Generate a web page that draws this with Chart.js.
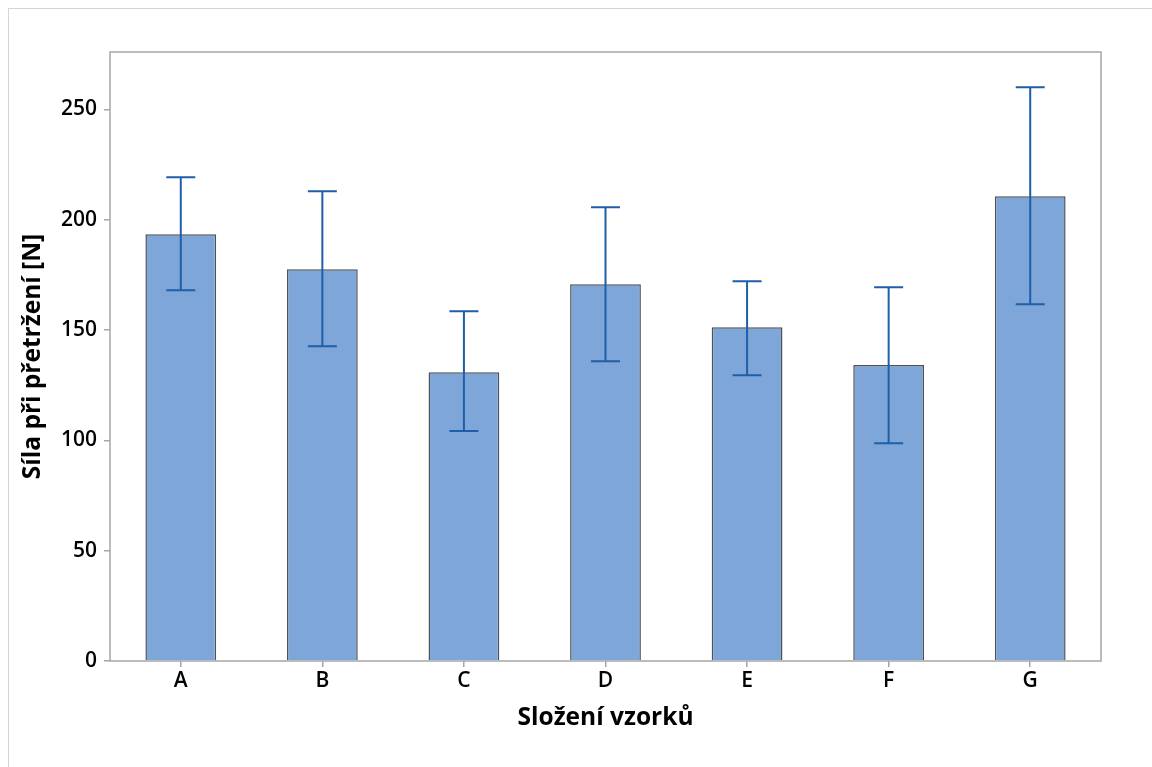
<!DOCTYPE html>
<html>
<head>
<meta charset="utf-8">
<script src="https://cdn.jsdelivr.net/npm/chart.js@4.4.1/dist/chart.umd.min.js"></script>
<style>
  html, body { margin: 0; padding: 0; background: #fff; overflow: hidden; }
  #wrap { position: relative; width: 1152px; height: 767px; }
  #frame { position: absolute; left: 8px; top: 8px; width: 1200px; height: 800px; border: 1px solid #d4d4d4; }
  canvas { position: absolute; left: 0; top: 0; }
</style>
</head>
<body>
<div id="wrap">
  <div id="frame"></div>
  <canvas id="chart" width="1152" height="767"></canvas>
</div>
<script>
// Data
const categories = ['A', 'B', 'C', 'D', 'E', 'F', 'G'];
const means = [193.4, 177.5, 130.9, 170.7, 151.3, 134.1, 210.6];
const errLow = [168.0, 142.7, 104.2, 135.9, 129.5, 98.7, 161.7];
const errHigh = [219.2, 212.9, 158.5, 205.6, 172.1, 169.4, 260.0];
const yTicks = [0, 50, 100, 150, 200, 250];

const FONT = "'Open Sans', 'Noto Sans', sans-serif";
const AXIS_GREY = '#a6a6a6';

// Error bars + plot frame
const errorBarPlugin = {
  id: 'errorBars',
  beforeDatasetsDraw(chart) {
    const { ctx, chartArea: a } = chart;
    ctx.save();
    ctx.strokeStyle = AXIS_GREY;
    ctx.lineWidth = 1.5;
    ctx.strokeRect(a.left, a.top, a.right - a.left, a.bottom - a.top);
    ctx.restore();
  },
  afterDatasetsDraw(chart) {
    const { ctx } = chart;
    const x = chart.scales.x;
    const y = chart.scales.y;
    const cap = 14.5;
    ctx.save();
    ctx.strokeStyle = '#1f5fa8';
    ctx.lineWidth = 2;
    categories.forEach((c, i) => {
      const px = x.getPixelForValue(i);
      const yl = y.getPixelForValue(errLow[i]);
      const yh = y.getPixelForValue(errHigh[i]);
      ctx.beginPath();
      ctx.moveTo(px, yl);
      ctx.lineTo(px, yh);
      ctx.moveTo(px - cap, yh);
      ctx.lineTo(px + cap, yh);
      ctx.moveTo(px - cap, yl);
      ctx.lineTo(px + cap, yl);
      ctx.stroke();
    });
    ctx.restore();
  }
};

new Chart(document.getElementById('chart'), {
  type: 'bar',
  data: {
    labels: categories,
    datasets: [{
      data: means,
      backgroundColor: '#7ea6d8',
      borderColor: '#4d5258',
      borderWidth: 1.5,
      categoryPercentage: 1,
      barPercentage: 0.5
    }]
  },
  options: {
    responsive: false,
    animation: false,
    devicePixelRatio: 1,
    layout: { padding: { left: 14, top: 52, right: 51, bottom: 30 } },
    plugins: {
      legend: { display: false },
      tooltip: { enabled: false }
    },
    scales: {
      x: {
        afterFit: s => { s.height = 76; },
        grid: { offset: false, drawOnChartArea: false, color: AXIS_GREY, tickLength: 6, lineWidth: 1.5 },
        border: { display: false },
        ticks: { color: '#000', padding: 1, font: { family: FONT, size: 21, weight: '600' } },
        title: {
          display: true,
          text: 'Složení vzorků',
          color: '#000',
          padding: { top: 4, bottom: 4 },
          font: { family: FONT, size: 24.5, weight: '700' }
        }
      },
      y: {
        min: 0,
        max: 276,
        afterFit: s => { s.width = 96; },
        afterBuildTicks: s => { s.ticks = yTicks.map(v => ({ value: v })); },
        grid: { drawOnChartArea: false, color: AXIS_GREY, tickLength: 6, lineWidth: 1.5 },
        border: { display: false },
        ticks: { color: '#000', padding: 7, font: { family: FONT, size: 21, weight: '600' } },
        title: {
          display: true,
          text: 'Síla při přetržení [N]',
          color: '#000',
          padding: { top: 4, bottom: 4 },
          font: { family: FONT, size: 24.5, weight: '700' }
        }
      }
    }
  },
  plugins: [errorBarPlugin]
});
</script>
</body>
</html>
